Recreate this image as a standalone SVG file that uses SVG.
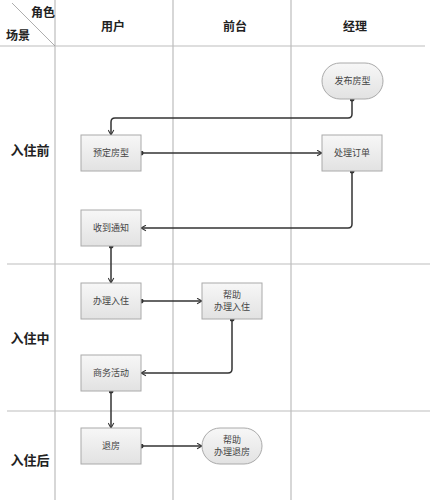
<svg xmlns="http://www.w3.org/2000/svg" width="430" height="500" viewBox="0 0 430 500">
<defs>
<linearGradient id="g" x1="0" y1="0" x2="0" y2="1">
<stop offset="0" stop-color="#f7f7f7"/>
<stop offset="1" stop-color="#e2e2e2"/>
</linearGradient>
<marker id="arr" viewBox="0 0 10 10" refX="9" refY="5" markerWidth="7" markerHeight="7" orient="auto" markerUnits="userSpaceOnUse">
<path d="M2,1 L9,5 L2,9" fill="none" stroke="#333" stroke-width="1.5"/>
</marker>
<marker id="dot" viewBox="0 0 6 6" refX="3" refY="3" markerWidth="5" markerHeight="5" markerUnits="userSpaceOnUse">
<circle cx="3" cy="3" r="3" fill="#333"/>
</marker>
</defs>
<style>
.grid{stroke:#bdbdbd;stroke-width:1.2;fill:none}
.hd{font-family:"Noto Sans CJK SC","Noto Sans",sans-serif;font-size:12px;font-weight:bold;fill:#222;text-anchor:middle}
.row{font-family:"Noto Sans CJK SC","Noto Sans",sans-serif;font-size:13px;font-weight:bold;fill:#222;text-anchor:middle}
.box{fill:url(#g);stroke:#aaa;stroke-width:1}
.t{font-family:"Noto Sans CJK SC","Noto Sans",sans-serif;font-size:9px;fill:#444;text-anchor:middle}
.c{fill:none;stroke:#333;stroke-width:1.5;marker-start:url(#dot);marker-end:url(#arr)}
</style>
<rect width="430" height="500" fill="#fff"/>
<g id="grid">
<line class="grid" x1="55" y1="0" x2="55" y2="500"/>
<line class="grid" x1="173" y1="0" x2="173" y2="500"/>
<line class="grid" x1="291" y1="0" x2="291" y2="500"/>
<line class="grid" x1="0" y1="46" x2="425" y2="46"/>
<line class="grid" x1="7" y1="264" x2="430" y2="264"/>
<line class="grid" x1="7" y1="411" x2="430" y2="411"/>
<line x1="12" y1="3" x2="55" y2="46" stroke="#999" stroke-width="0.8"/>
</g>
<g id="headers">
<text class="hd" x="43" y="17">角色</text>
<text class="hd" x="18" y="40">场景</text>
<text class="hd" x="113" y="31">用户</text>
<text class="hd" x="235" y="31">前台</text>
<text class="hd" x="355" y="31">经理</text>
<text class="row" x="30" y="155">入住前</text>
<text class="row" x="30" y="343">入住中</text>
<text class="row" x="30" y="465">入住后</text>
</g>
<g id="connectors">
<path class="c" d="M352,99 V114 Q352,118 348,118 H115 Q111,118 111,122 V135"/>
<path class="c" d="M141,153 H322"/>
<path class="c" d="M352,171 V224 Q352,228 348,228 H141"/>
<path class="c" d="M111,246 V283"/>
<path class="c" d="M141,301 H202"/>
<path class="c" d="M232,319 V369 Q232,373 228,373 H141"/>
<path class="c" d="M111,391 V428"/>
<path class="c" d="M141,446 H202"/>
</g>
<g id="n1"><rect class="box" x="322" y="63" width="61" height="36" rx="18"/><text class="t" x="352.5" y="84">发布房型</text></g>
<g id="n2"><rect class="box" x="81" y="135" width="60" height="36"/><text class="t" x="111" y="156">预定房型</text></g>
<g id="n3"><rect class="box" x="322" y="135" width="60" height="36"/><text class="t" x="352" y="156">处理订单</text></g>
<g id="n4"><rect class="box" x="81" y="210" width="60" height="36"/><text class="t" x="111" y="231">收到通知</text></g>
<g id="n5"><rect class="box" x="81" y="283" width="60" height="36"/><text class="t" x="111" y="304">办理入住</text></g>
<g id="n6"><rect class="box" x="202" y="283" width="60" height="36"/><text class="t" x="232" y="298">帮助</text><text class="t" x="232" y="310">办理入住</text></g>
<g id="n7"><rect class="box" x="81" y="355" width="60" height="36"/><text class="t" x="111" y="376">商务活动</text></g>
<g id="n8"><rect class="box" x="81" y="428" width="60" height="36"/><text class="t" x="111" y="449">退房</text></g>
<g id="n9"><rect class="box" x="202" y="428" width="60" height="36" rx="18"/><text class="t" x="232" y="443">帮助</text><text class="t" x="232" y="455">办理退房</text></g>
</svg>
